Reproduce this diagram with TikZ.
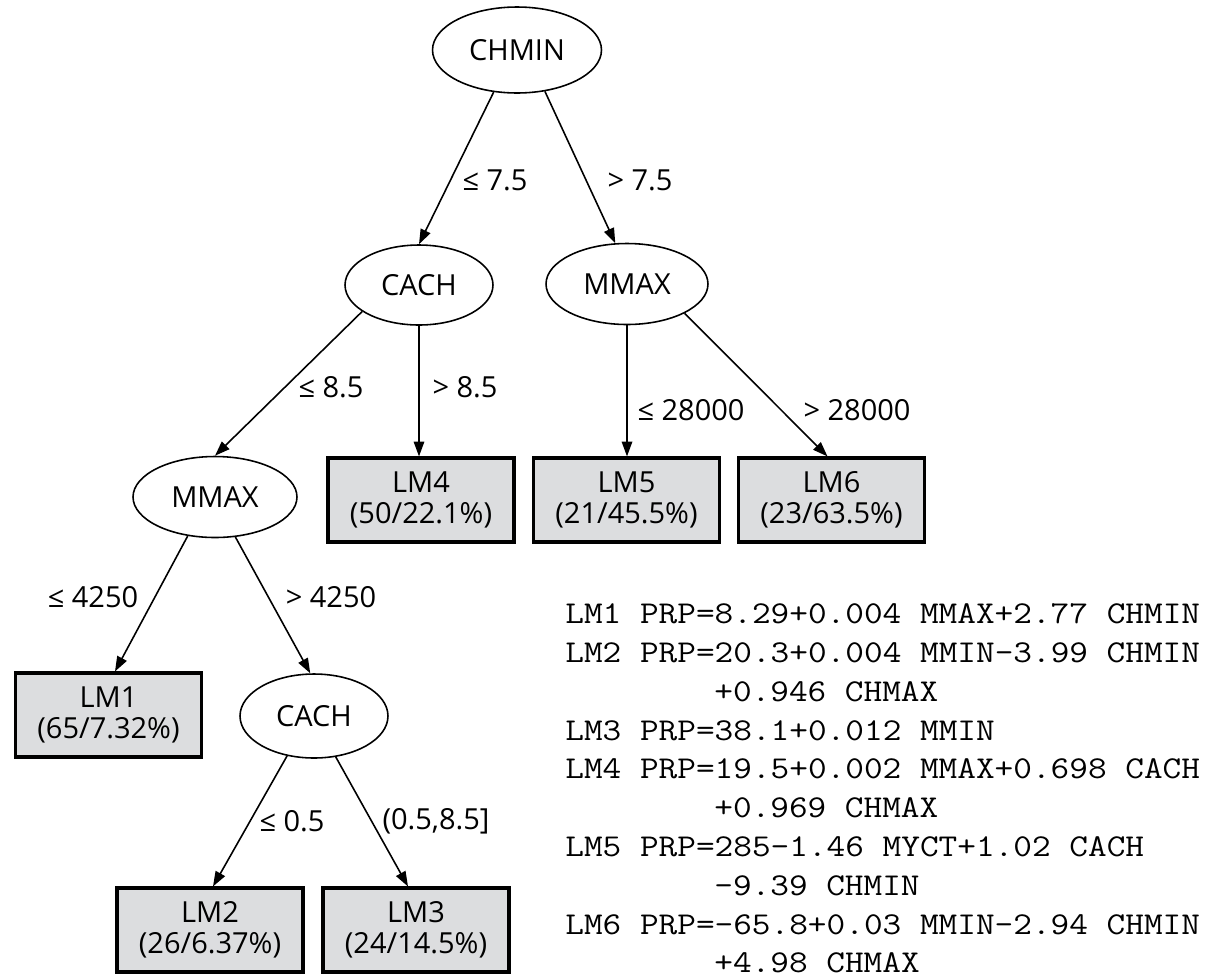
\documentclass[tikz,border=0pt]{standalone}
\usepackage{fontspec}
\setmainfont{Open Sans}
\setmonofont[FakeStretch=1.14]{Latin Modern Mono}
\usetikzlibrary{shapes.geometric,arrows.meta}
\definecolor{boxgray}{RGB}{220,221,223}
\begin{document}
\begin{tikzpicture}[x=0.02cm,y=-0.02cm,
  dec/.style={ellipse, draw, line width=0.9pt, inner sep=0pt, font=\fontsize{16.5}{18}\selectfont},
  leaf/.style={rectangle, draw, line width=1.8pt, fill=boxgray, minimum width=3.72cm, minimum height=1.68cm, align=center, inner sep=0pt, font=\fontsize{16.5}{17.6}\selectfont},
  edge/.style={line width=0.9pt, -{Triangle[length=8.5pt,width=6pt]}},
  lbl/.style={inner sep=0pt, font=\fontsize{16.5}{18}\selectfont},
  eq/.style={inner sep=0pt, anchor=base west, font=\ttfamily\fontsize{18.1}{20}\selectfont}]
\useasboundingbox (0,0) rectangle (1207,978);

% decision nodes
\node[dec, minimum width=3.38cm, minimum height=1.72cm] (chmin) at (517,50) {CHMIN};
\node[dec, minimum width=2.96cm, minimum height=1.60cm] (cach1) at (419,285) {CACH};
\node[dec, minimum width=3.24cm, minimum height=1.62cm] (mmaxR) at (627,284) {MMAX};
\node[dec, minimum width=3.28cm, minimum height=1.62cm] (mmaxL) at (215,497) {MMAX};
\node[dec, minimum width=2.96cm, minimum height=1.68cm] (cach2) at (314,716) {CACH};

% leaves
\node[leaf] (lm4) at (421,500) {LM4\\(50/22.1\%)};
\node[leaf] (lm5) at (626.5,500) {LM5\\(21/45.5\%)};
\node[leaf] (lm6) at (831.5,500) {LM6\\(23/63.5\%)};
\node[leaf] (lm1) at (108.5,715) {LM1\\(65/7.32\%)};
\node[leaf] (lm2) at (210,930) {LM2\\(26/6.37\%)};
\node[leaf] (lm3) at (416,930) {LM3\\(24/14.5\%)};

% edges
\draw[edge] (chmin.241.9) -- (cach1.north);
\draw[edge] (chmin.304.6) -- (mmaxR.106);
\draw[edge] (cach1.205.4) -- (mmaxL.north);
\draw[edge] (cach1.south) -- (cach1.south |- lm4.north);
\draw[edge] (mmaxR.south) -- (mmaxR.south |- lm5.north);
\draw[edge] (mmaxR.333) -- ([xshift=-0.08cm]lm6.north);
\draw[edge] (mmaxL.235.7) -- ([xshift=0.13cm]lm1.north);
\draw[edge] (mmaxL.297.7) -- (cach2.95);
\draw[edge] (cach2.236.6) -- ([xshift=0.06cm]lm2.north);
\draw[edge] (cach2.298.2) -- ([xshift=-0.16cm]lm3.north);

% edge labels
\node[lbl] (l1) at (495,180) {≤ 7.5};
\node[lbl] (l2) at (640,180) {> 7.5};
\node[lbl] (l3) at (331,387) {≤ 8.5};
\node[lbl] (l4) at (465,387) {> 8.5};
\node[lbl] (l5) at (691,410) {≤ 28000};
\node[lbl] (l6) at (857,410) {> 28000};
\node[lbl] (l7) at (93,597) {≤ 4250};
\node[lbl] (l8) at (331,597) {> 4250};
\node[lbl] (l9) at (292,821) {≤ 0.5};
\node[lbl] (l10) at (436,821) {(0.5,8.5]};

% equations
\node[eq] (e1) at (565,623) {LM1 PRP=8.29+0.004 MMAX+2.77 CHMIN};
\node[eq] (e2) at (565,662) {LM2 PRP=20.3+0.004 MMIN-3.99 CHMIN};
\node[eq] (e3) at (714,701) {+0.946 CHMAX};
\node[eq] (e4) at (565,740) {LM3 PRP=38.1+0.012 MMIN};
\node[eq] (e5) at (565,778) {LM4 PRP=19.5+0.002 MMAX+0.698 CACH};
\node[eq] (e6) at (714,817) {+0.969 CHMAX};
\node[eq] (e7) at (565,856) {LM5 PRP=285-1.46 MYCT+1.02 CACH};
\node[eq] (e8) at (714,895) {-9.39 CHMIN};
\node[eq] (e9) at (565,934) {LM6 PRP=-65.8+0.03 MMIN-2.94 CHMIN};
\node[eq] (e10) at (714,972) {+4.98 CHMAX};
\end{tikzpicture}
\end{document}
